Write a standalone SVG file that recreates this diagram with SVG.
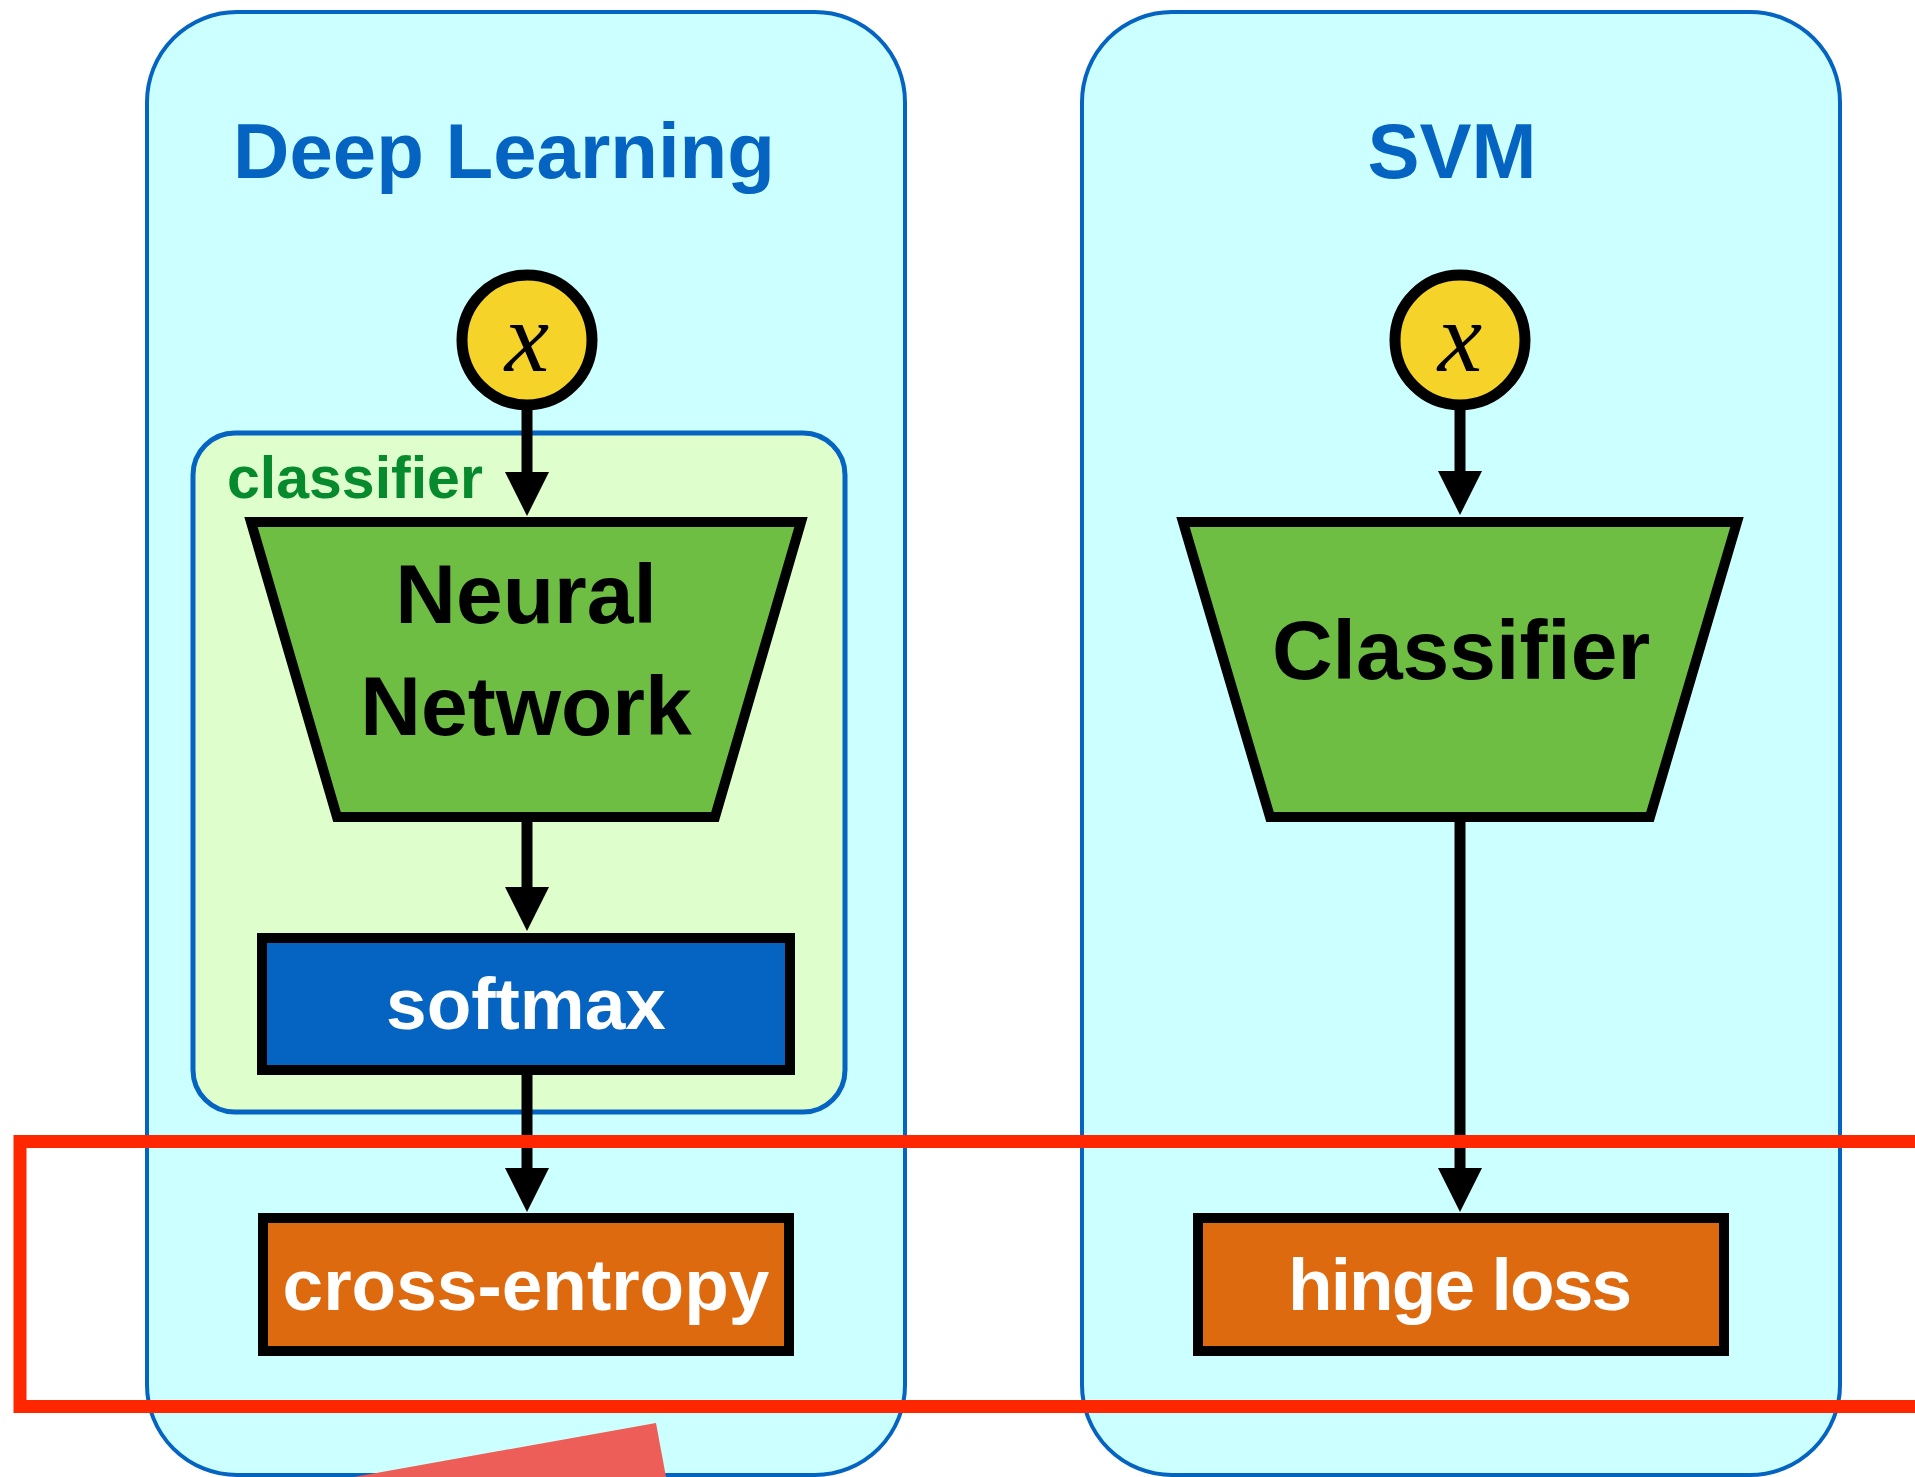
<svg xmlns="http://www.w3.org/2000/svg" width="1915" height="1477" viewBox="0 0 1915 1477">
<style>
.panel{fill:#CCFFFF;stroke:#0563C1;stroke-width:4}
.inner{fill:#DEFFCC;stroke:#0563C1;stroke-width:5}
.title{font-family:"Liberation Sans",Arial,sans-serif;font-weight:bold;font-size:78px;fill:#0563C1;text-anchor:middle}
.lbl{font-family:"Liberation Sans",Arial,sans-serif;font-weight:bold;text-anchor:middle}
.trap{fill:#6FBE44;stroke:#000;stroke-width:10;stroke-linejoin:miter}
.inp{fill:#F5D328;stroke:#000;stroke-width:11}
.xv{font-family:"Liberation Serif","Times New Roman",serif;font-style:italic;font-size:100px;fill:#000;text-anchor:middle}
.box{stroke:#000;stroke-width:10}
.soft{fill:#0563C1}
.loss{fill:#DE6A10}
.conn{stroke:#000;stroke-width:11;fill:none;marker-end:url(#ah)}
</style>
<defs>
<marker id="ah" markerUnits="userSpaceOnUse" markerWidth="44" markerHeight="44" viewBox="0 0 44 44" refX="1" refY="22" orient="auto">
<path d="M0,0 L44,22 L0,44 Z" fill="#000"/>
</marker>
</defs>
<rect width="1915" height="1477" fill="#fff"/>
<g id="panel-dl">
<rect class="panel" x="147" y="12" width="758" height="1463" rx="90" ry="90"/>
<text class="title" x="504" y="178">Deep Learning</text>
</g>
<g id="panel-svm">
<rect class="panel" x="1082" y="12" width="758" height="1463" rx="90" ry="90"/>
<text class="title" x="1452" y="178">SVM</text>
</g>
<g id="group-classifier">
<rect class="inner" x="193" y="433" width="652" height="679" rx="42" ry="42"/>
<text class="lbl" x="227" y="498" font-size="59" fill="#078A2E" style="text-anchor:start">classifier</text>
</g>
<g id="x-dl">
<circle class="inp" cx="527" cy="340" r="65"/>
<text class="xv" x="527" y="371">x</text>
</g>
<g id="x-svm">
<circle class="inp" cx="1460" cy="340" r="65"/>
<text class="xv" x="1460" y="371">x</text>
</g>
<g id="neural-network">
<polygon class="trap" points="251,522 801,522 715,817 337,817"/>
<text class="lbl" x="526" y="623" font-size="84" fill="#000">Neural</text>
<text class="lbl" x="526" y="735" font-size="84" fill="#000">Network</text>
</g>
<g id="classifier-svm">
<polygon class="trap" points="1183,522 1737,522 1650,817 1270,817"/>
<text class="lbl" x="1461" y="679" font-size="84" fill="#000">Classifier</text>
</g>
<g id="softmax">
<rect class="box soft" x="262" y="938" width="528" height="132"/>
<text class="lbl" x="526" y="1029" font-size="73" fill="#fff">softmax</text>
</g>
<g id="cross-entropy">
<rect class="box loss" x="263" y="1218" width="526" height="133"/>
<text class="lbl" x="526" y="1310" font-size="73" fill="#fff">cross-entropy</text>
</g>
<g id="hinge-loss">
<rect class="box loss" x="1198" y="1218" width="526" height="133"/>
<text class="lbl" x="1460" y="1310" font-size="73" fill="#fff" textLength="344">hinge loss</text>
</g>
<g id="connectors">
<path class="conn" d="M527,405 L527,473"/>
<path class="conn" d="M527,822 L527,888"/>
<path class="conn" d="M527,1075 L527,1169"/>
<path class="conn" d="M1460,405 L1460,472"/>
<path class="conn" d="M1460,822 L1460,1169"/>
</g>
<g id="highlight">
<polygon points="354,1477 656,1423 666,1477" fill="#EC5E57"/>
<rect x="20" y="1141.5" width="2000" height="265" fill="none" stroke="#FF2600" stroke-width="13"/>
</g>
</svg>
